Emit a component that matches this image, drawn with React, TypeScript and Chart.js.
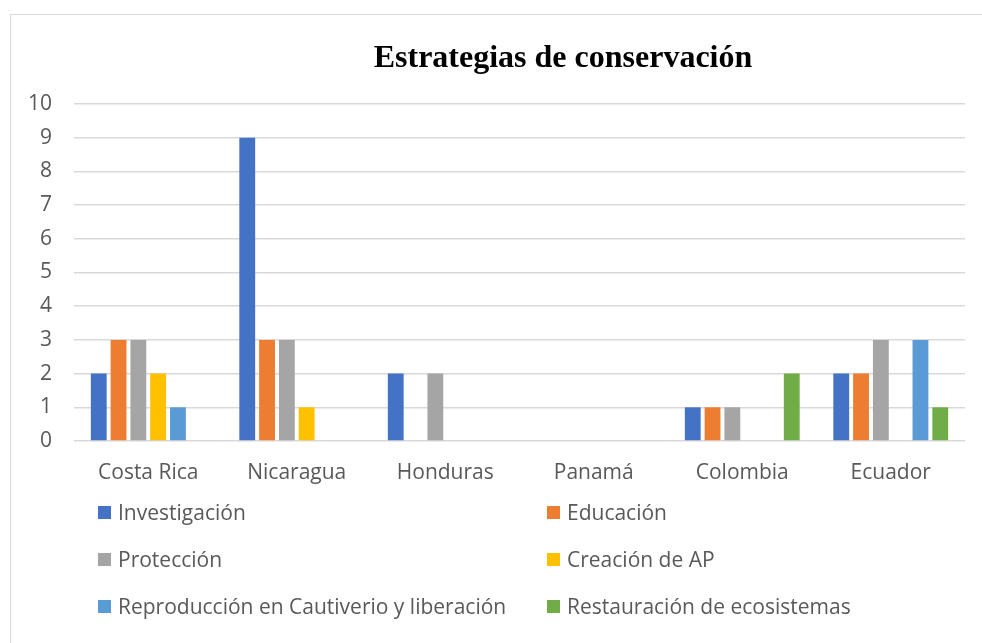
import React, { useEffect, useRef } from "react";
import { Chart, registerables } from "chart.js";

Chart.register(...registerables);

const categories = ["Costa Rica", "Nicaragua", "Honduras", "Panamá", "Colombia", "Ecuador"];
const investigacion = [2, 9, 2, 0, 1, 2];
const educacion = [3, 3, 0, 0, 1, 2];
const proteccion = [3, 3, 2, 0, 1, 3];
const creacionAP = [2, 1, 0, 0, 0, 0];
const reproduccion = [1, 0, 0, 0, 0, 3];
const restauracion = [0, 0, 0, 0, 2, 1];
const yTicks = [0, 1, 2, 3, 4, 5, 6, 7, 8, 9, 10];

const seriesNames = [
  "Investigación",
  "Educación",
  "Protección",
  "Creación de AP",
  "Reproducción en Cautiverio y liberación",
  "Restauración de ecosistemas",
];
const seriesData = [investigacion, educacion, proteccion, creacionAP, reproduccion, restauracion];
const colors = ["#4472C4", "#ED7D31", "#A5A5A5", "#FFC000", "#5B9BD5", "#70AD47"];

const FONT = "'Open Sans', 'Liberation Sans', sans-serif";
const TEXT = "#595959";
const FS = 21;

export default function App() {
  const ref = useRef<HTMLCanvasElement>(null);

  useEffect(() => {
    if (!ref.current) return;
    const chart = new Chart(ref.current, {
      type: "bar",
      data: {
        labels: categories,
        datasets: seriesNames.map((name, i) => ({
          label: name,
          data: seriesData[i],
          backgroundColor: colors[i],
          borderWidth: 0,
          barPercentage: 0.8,
          categoryPercentage: 0.8,
        })),
      },
      options: {
        animation: false,
        responsive: false,
        maintainAspectRatio: false,
        layout: { padding: { top: 104, left: 0, right: 17, bottom: 142 } },
        plugins: {
          legend: { display: false },
          title: { display: false },
          tooltip: { enabled: false },
        },
        scales: {
          x: {
            grid: { display: false, drawTicks: false },
            border: { display: false },
            ticks: { color: TEXT, font: { family: FONT, size: FS }, padding: 19, maxRotation: 0 },
            afterFit: (s: any) => { s.height = 60; },
          },
          y: {
            min: 0,
            max: 10,
            afterBuildTicks: (s: any) => { s.ticks = yTicks.map((v) => ({ value: v })); },
            grid: { color: "#D9D9D9", lineWidth: 1.5, drawTicks: false },
            border: { display: false },
            ticks: { color: TEXT, font: { family: FONT, size: FS }, padding: 22 },
            afterFit: (s: any) => { s.width = 74; },
          },
        },
      },
    });
    return () => chart.destroy();
  }, []);

  const legendRows = [0, 2, 4];

  return (
    <div style={{ position: "absolute", left: 0, top: 0, width: 982, height: 643, overflow: "hidden", background: "#fff" }}>
      <div
        style={{
          position: "absolute",
          left: 10,
          top: 14,
          width: 1000,
          height: 700,
          border: "1.5px solid #D9D9D9",
          boxSizing: "border-box",
        }}
      />
      <canvas ref={ref} width={982} height={643} style={{ position: "absolute", left: 0, top: 0 }} />
      <div
        style={{
          position: "absolute",
          left: 563,
          top: 56,
          transform: "translate(-50%, -50%)",
          fontFamily: "'Liberation Serif', 'Times New Roman', serif",
          fontWeight: "bold",
          fontSize: 32,
          color: "#000",
          whiteSpace: "nowrap",
        }}
      >
        Estrategias de conservación
      </div>
      {legendRows.map((start, r) =>
        [0, 1].map((c) => {
          const i = start + c;
          return (
            <div
              key={i}
              style={{
                position: "absolute",
                left: c === 0 ? 98 : 547,
                top: 512 + r * 47,
                transform: "translateY(-50%)",
                display: "flex",
                alignItems: "center",
                fontFamily: FONT,
                fontSize: FS,
                color: TEXT,
                whiteSpace: "nowrap",
              }}
            >
              <span style={{ display: "inline-block", width: 13, height: 13, background: colors[i], marginRight: 7 }} />
              <span>{seriesNames[i]}</span>
            </div>
          );
        })
      )}
    </div>
  );
}
